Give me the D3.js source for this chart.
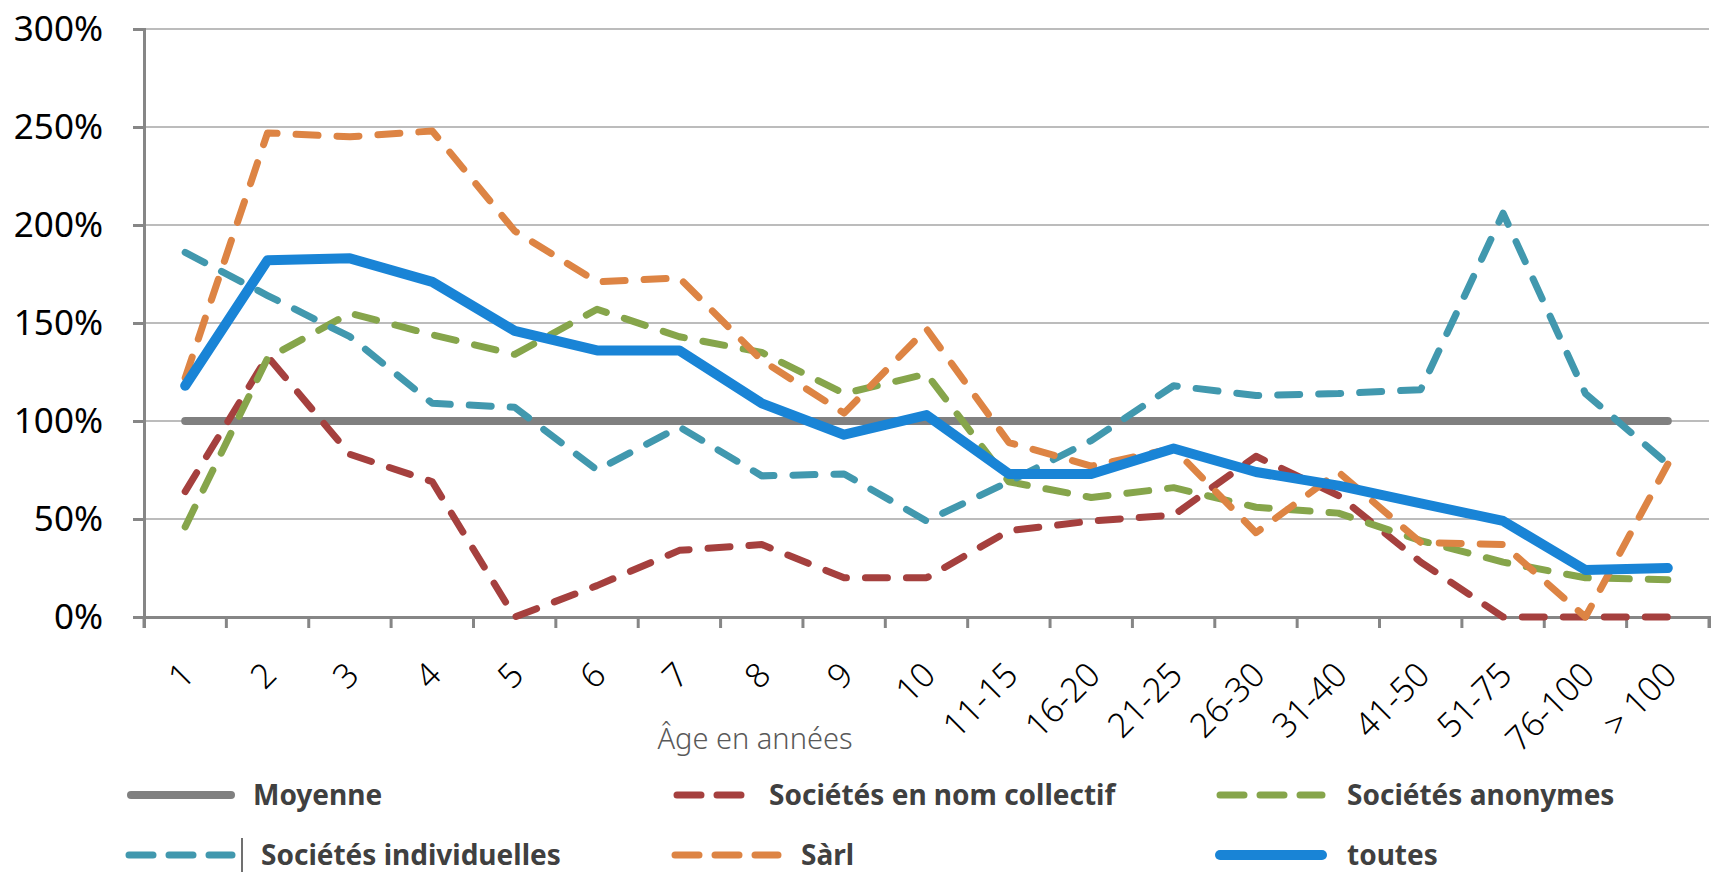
<!DOCTYPE html>
<html>
<head>
<meta charset="utf-8">
<script src="https://cdn.jsdelivr.net/npm/d3@7"></script>
<style>
  body { margin: 0; background: #fff; }
  svg { display: block; }
</style>
</head>
<body>
<div id="content"></div>
<script>
// categories (age in years)
var ages = ["1", "2", "3", "4", "5", "6", "7", "8", "9", "10", "11-15", "16-20",
            "21-25", "26-30", "31-40", "41-50", "51-75", "76-100", "> 100"];

var y_ticks = [0, 50, 100, 150, 200, 250, 300];

// series values, in %
var moyenne     = [100, 100, 100, 100, 100, 100, 100, 100, 100, 100, 100, 100, 100, 100, 100, 100, 100, 100, 100];
var snc         = [64, 133, 83, 69, 0, 16, 34, 37, 20, 20, 44, 49, 52, 82, 62, 28, 0, 0, 0];
var anonymes    = [46, 132, 155, 144, 134, 157, 143, 135, 114, 124, 69, 61, 66, 56, 53, 39, 28, 20, 19];
var individ     = [186, 164, 143, 109, 107, 75, 97, 72, 73, 49, 69, 90, 118, 113, 114, 116, 206, 114, 78];
var sarl        = [122, 247, 245, 248, 197, 171, 173, 131, 104, 147, 89, 77, 86, 43, 74, 38, 37, 0, 78];
var toutes      = [118, 182, 183, 171, 146, 136, 136, 109, 93, 103, 73, 73, 86, 74, 67, 58, 49, 24, 25];

var series = [
  {name: "Moyenne", values: moyenne, colour: "#808080", width: 8, dash: null},
  {name: "Sociétés en nom collectif", values: snc, colour: "#a5403e", width: 7, dash: "22,19"},
  {name: "Sociétés anonymes", values: anonymes, colour: "#86a54b", width: 7, dash: "22,19"},
  {name: "Sociétés individuelles", values: individ, colour: "#4198ae", width: 7, dash: "22,19"},
  {name: "Sàrl", values: sarl, colour: "#dd8444", width: 7, dash: "22,19"},
  {name: "toutes", values: toutes, colour: "#1984d6", width: 10, dash: null}
];

var width = 1711, height = 872;
var plot_left = 144, plot_right = 1709, plot_top = 29, plot_bottom = 617;

var svg = d3.select("#content")
  .append("svg")
  .attr("width", width)
  .attr("height", height);

var x = d3.scalePoint().domain(ages).range([plot_left, plot_right]).padding(0.5);
var xb = d3.scaleBand().domain(ages).range([plot_left, plot_right]);
var y = d3.scaleLinear().domain([0, 300]).range([plot_bottom, plot_top]);

// gridlines
svg.append("g")
  .selectAll("line")
  .data(y_ticks.slice(1))
  .join("line")
  .attr("x1", plot_left).attr("x2", plot_right)
  .attr("y1", function(d) { return y(d); })
  .attr("y2", function(d) { return y(d); })
  .attr("stroke", "#a6a6a6")
  .attr("stroke-width", 1.5);

// y axis
var yAxis = svg.append("g")
  .attr("transform", "translate(" + plot_left + ",0)")
  .call(d3.axisLeft(y).tickValues(y_ticks).tickSize(11).tickPadding(30)
    .tickFormat(function(d) { return d + "%"; }));
yAxis.select(".domain").attr("stroke", "#868686").attr("stroke-width", 3);
yAxis.selectAll(".tick line").attr("stroke", "#868686").attr("stroke-width", 3);
yAxis.selectAll("text")
  .attr("font-family", "'Noto Sans', sans-serif")
  .attr("font-size", "35px")
  .attr("fill", "#000");

// x axis
var xAxis = svg.append("g")
  .attr("transform", "translate(0," + plot_bottom + ")")
  .call(d3.axisBottom(xb).tickSize(11).tickFormat(""));
xAxis.select(".domain").attr("stroke", "#868686").attr("stroke-width", 3);
xAxis.selectAll(".tick line")
  .attr("transform", "translate(" + (-xb.bandwidth() / 2) + ",0)")
  .attr("stroke", "#868686").attr("stroke-width", 3);
// closing tick at the right end
xAxis.append("line")
  .attr("x1", plot_right).attr("x2", plot_right).attr("y1", 0).attr("y2", 11)
  .attr("stroke", "#868686").attr("stroke-width", 3);

svg.append("g")
  .selectAll("text")
  .data(ages)
  .join("text")
  .attr("transform", function(d) {
    return "translate(" + (x(d) + 11) + "," + (plot_bottom + 60) + ") rotate(-45)";
  })
  .attr("text-anchor", "end")
  .attr("font-family", "'Noto Sans', sans-serif")
  .attr("font-weight", 300)
  .attr("font-size", "34px")
  .attr("fill", "#000")
  .text(function(d) { return d; });

// axis title
svg.append("text")
  .attr("x", 755).attr("y", 749)
  .attr("text-anchor", "middle")
  .attr("font-family", "'Noto Sans', sans-serif")
  .attr("font-weight", 300)
  .attr("font-size", "29px")
  .attr("fill", "#595959")
  .text("Âge en années");

// lines
var line = d3.line()
  .x(function(d, i) { return x(ages[i]); })
  .y(function(d) { return y(d); });

svg.append("g")
  .selectAll("path")
  .data(series)
  .join("path")
  .attr("d", function(s) { return line(s.values); })
  .attr("fill", "none")
  .attr("stroke", function(s) { return s.colour; })
  .attr("stroke-width", function(s) { return s.width; })
  .attr("stroke-dasharray", function(s) { return s.dash; })
  .attr("stroke-linecap", "round")
  .attr("stroke-linejoin", "round");

// legend
var legend_pos = [
  {x: 131, x2: 231, y: 795, tx: 253},
  {x: 677, x2: 746, y: 795, tx: 769},
  {x: 1220, x2: 1322, y: 795, tx: 1347},
  {x: 129, x2: 232, y: 855, tx: 261},
  {x: 675, x2: 778, y: 855, tx: 801},
  {x: 1220, x2: 1322, y: 855, tx: 1347}
];

var leg = svg.append("g")
  .selectAll("g")
  .data(series)
  .join("g")
  .attr("transform", function(s, i) { return "translate(0," + legend_pos[i].y + ")"; });

leg.append("line")
  .attr("x1", function(s, i) { return legend_pos[i].x; })
  .attr("x2", function(s, i) { return legend_pos[i].x2; })
  .attr("stroke", function(s) { return s.colour; })
  .attr("stroke-width", function(s) { return s.width; })
  .attr("stroke-dasharray", function(s) { return s.dash ? "24,16" : null; })
  .attr("stroke-linecap", "round");

leg.append("text")
  .attr("x", function(s, i) { return legend_pos[i].tx; })
  .attr("y", 10)
  .attr("font-family", "'Noto Sans', sans-serif")
  .attr("font-weight", "bold")
  .attr("font-size", "28px")
  .attr("fill", "#404040")
  .text(function(s) { return s.name; });

// the little bar in front of "Sociétés individuelles"
svg.append("line")
  .attr("x1", 242).attr("x2", 242).attr("y1", 838).attr("y2", 872)
  .attr("stroke", "#404040").attr("stroke-width", 1.5);
</script>
</body>
</html>
